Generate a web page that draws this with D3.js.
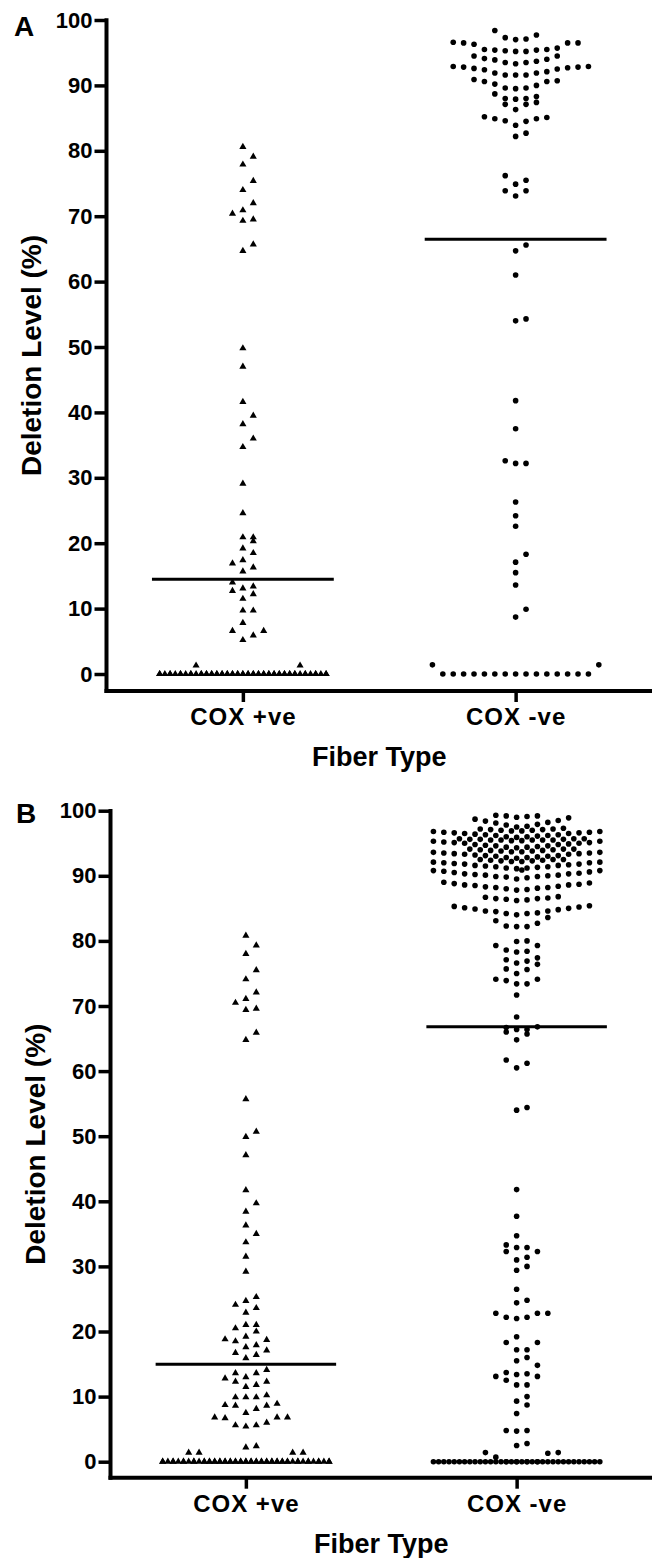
<!DOCTYPE html>
<html>
<head>
<meta charset="utf-8">
<script src="https://cdn.jsdelivr.net/npm/d3@7"></script>
<style>
  body { margin: 0; background: #fff; }
  svg text { font-family: "Liberation Sans", Arial, Helvetica, sans-serif; font-weight: bold; fill: #000; }
</style>
</head>
<body>
<div id="chart"></div>
<script>
const categories = ["COX +ve", "COX -ve"];
const yTicks = [0, 10, 20, 30, 40, 50, 60, 70, 80, 90, 100];
const panelLetters = ["A", "B"];
const xTitle = "Fiber Type";
const yTitle = "Deletion Level (%)";

// panel A, COX +ve fibres (triangles)
const aCoxPos = [
  80.6, 79.1, 77.9, 75.4, 74.0, 72.0, 70.9, 70.4, 69.5, 69.3, 65.7, 64.7,
  49.8, 47.0, 41.6, 39.5, 38.2, 36.0, 34.7, 29.1, 24.6,
  20.9, 20.9, 20.3, 19.2, 18.5, 17.4, 16.9, 16.3, 15.7, 14.0, 13.4, 13.1, 12.7, 12.2, 11.5,
  9.7, 9.7, 7.8, 6.6, 6.6, 5.9, 5.2, 1.3, 1.3,
  0, 0, 0, 0, 0, 0, 0, 0, 0, 0, 0, 0, 0, 0, 0, 0, 0, 0, 0, 0,
  0, 0, 0, 0, 0, 0, 0, 0, 0, 0, 0, 0, 0, 0, 0, 0, 0, 0, 0, 0,
  0, 0, 0, 0, 0, 0, 0, 0, 0, 0, 0, 0, 0, 0, 0, 0, 0, 0, 0
];

// panel A, COX -ve fibres (dots)
const aCoxNeg = [
  98.4, 97.7, 97.3, 97.1, 97.0,
  96.6, 96.5, 96.5, 96.5, 96.3, 95.7, 95.5, 95.5, 95.4, 95.4, 95.3, 95.2, 95.2,
  94.5, 94.5, 94.1, 94.0, 93.9, 93.7, 93.5, 93.5, 93.3,
  92.9, 92.9, 92.8, 92.8, 92.7, 92.6, 92.5, 92.4, 92.1, 91.9, 91.9, 91.6, 91.6, 91.6,
  90.9, 90.7, 90.6, 90.6, 90.2, 90.0, 89.6, 89.6, 89.5,
  88.7, 88.3, 88.0, 88.0, 87.9, 87.4, 87.1, 87.1, 86.3,
  85.2, 85.1, 84.9, 84.9, 84.6, 84.5, 83.9, 82.7, 82.2,
  76.2, 75.5, 74.9, 73.9, 73.9, 73.1,
  65.6, 64.7, 61.0, 54.3, 54.0, 41.8, 37.5, 32.6, 32.2, 32.2, 26.3, 24.2, 22.6,
  18.3, 17.1, 15.5, 13.6, 9.9, 8.7, 1.4, 1.4,
  0, 0, 0, 0, 0, 0, 0, 0, 0, 0, 0, 0, 0, 0, 0
];

// panel B, COX +ve fibres (triangles)
const bCoxPos = [
  80.8, 79.3, 78.0, 75.5, 74.1, 72.1, 71.1, 70.5, 69.6, 69.4, 65.9, 64.8,
  55.7, 50.7, 49.9, 47.1, 41.7, 39.7, 38.4, 36.3, 35.0, 33.7, 31.5, 29.2,
  25.3, 24.7, 24.1, 23.6, 22.9,
  21.0, 21.0, 20.5, 20.0, 19.2, 18.8, 18.7, 18.5, 17.9, 17.6, 17.1, 16.7, 16.4, 15.9,
  14.1, 13.6, 13.6, 13.0, 12.8, 12.3, 12.3, 11.8, 11.5,
  10.2, 9.9, 9.9, 9.9, 8.9, 8.7, 8.6, 8.6, 8.1, 7.5,
  6.8, 6.8, 6.8, 6.7, 6.0, 5.6, 5.6, 5.4,
  2.4, 2.2, 1.4, 1.4, 1.4, 1.4,
  0, 0, 0, 0, 0, 0, 0, 0, 0, 0, 0, 0, 0, 0, 0, 0, 0, 0, 0, 0,
  0, 0, 0, 0, 0, 0, 0, 0, 0, 0, 0, 0, 0, 0, 0, 0, 0, 0, 0, 0,
  0, 0, 0, 0, 0, 0, 0, 0, 0, 0, 0, 0, 0, 0, 0, 0, 0, 0
];

// panel B, COX -ve fibres (dots)
const bCoxNeg = [
  99.3, 99.2, 99.2, 99.1, 99.0,
  98.9, 98.7, 98.5, 98.4, 98.2, 98.1, 97.9, 97.8, 97.6, 97.5,
  97.3, 97.2, 97.2, 97.1, 97.1, 97.0, 97.0, 96.9, 96.9, 96.8, 96.8, 96.7, 96.7,
  96.6, 96.6, 96.5, 96.5, 96.4, 96.3, 96.3, 96.2, 96.2, 96.1, 96.0, 96.0, 95.9,
  95.7, 95.7, 95.7, 95.6, 95.6, 95.6, 95.5, 95.5, 95.5, 95.5, 95.5, 95.4, 95.4, 95.3, 95.3,
  95.2, 95.1, 95.1, 95.0, 95.0, 94.9, 94.8, 94.8, 94.7, 94.6, 94.6, 94.5, 94.4, 94.4, 94.3,
  94.1, 94.1, 94.1, 94.0, 94.0, 93.9, 93.9, 93.8, 93.8, 93.7, 93.7, 93.6, 93.6, 93.5,
  93.5, 93.4, 93.4, 93.3, 93.3, 93.2, 93.1, 93.1, 93.0, 93.0, 92.9, 92.8, 92.8, 92.7,
  92.5, 92.5, 92.5, 92.4, 92.4, 92.3, 92.3, 92.2, 92.2, 92.1, 92.1, 92.0, 92.0,
  91.9, 91.8, 91.8, 91.7, 91.6, 91.6, 91.5, 91.4, 91.4, 91.3, 91.2, 91.2, 91.1,
  90.9, 90.8, 90.8, 90.7, 90.6, 90.5, 90.4, 90.3, 90.3, 90.2, 90.1, 90.1, 90.0,
  89.9, 89.9, 89.8, 89.7, 89.5,
  89.0, 88.9, 88.8, 88.7, 88.6, 88.6, 88.5, 88.4, 88.3, 88.2, 88.2, 88.1, 88.0, 87.9, 87.8,
  86.8, 86.7, 86.6, 86.5, 86.5, 86.4, 86.3, 86.2,
  85.4, 85.3, 85.2, 85.1, 85.0, 84.9, 84.8, 84.6, 84.6, 84.5, 84.3, 84.2, 84.2, 84.0,
  83.6, 83.1, 82.7, 82.3, 82.2, 82.2,
  80.0, 79.9, 79.3, 79.3, 78.6, 78.4, 78.3, 77.4, 77.1, 76.9, 76.6, 76.4,
  75.7, 75.6, 75.0, 74.1, 74.1, 73.9, 73.4, 73.4, 71.7,
  68.3, 66.8, 66.7, 66.4, 66.4, 66.0, 65.7, 64.8, 61.7, 61.2, 60.5, 54.4, 54.0,
  41.8, 37.7, 34.7, 33.3, 32.9, 32.9, 32.3, 32.3, 31.4, 31.0, 30.0, 29.4, 26.5,
  24.8, 24.4, 22.8, 22.8, 22.8, 22.2, 22.2, 22.0, 19.2, 18.3, 18.3, 17.2, 17.2,
  16.0, 15.5, 14.8, 13.7, 13.5, 13.4, 13.1, 13.1, 12.5, 11.8, 11.8,
  10.0, 9.3, 8.7, 7.4, 4.8, 4.8, 4.7, 2.8, 2.5, 1.4, 1.4, 1.3, 0.7,
  0, 0, 0, 0, 0, 0, 0, 0, 0, 0, 0, 0, 0, 0, 0, 0, 0, 0, 0, 0,
  0, 0, 0, 0, 0, 0, 0, 0, 0, 0, 0, 0, 0, 0, 0, 0, 0
];

const width = 660,
  height = 1558,
  rowStep = 1.5, // values closer than this share one row of the scatter
  slot = 10.4, // horizontal gap between neighbours in a row
  slotsPerSide = 8;

const panels = [
  { letter: panelLetters[0], groups: [aCoxPos, aCoxNeg], left: 106.5, right: 652, top: 20, zero: 674, base: 691, lx: 14, ly: 36 },
  { letter: panelLetters[1], groups: [bCoxPos, bCoxNeg], left: 110.5, right: 652, top: 810.7, zero: 1461.7, base: 1477.7, lx: 16, ly: 823 }
];

const svg = d3
  .select("#chart")
  .append("svg")
  .attr("width", width)
  .attr("height", height);

// column scatter: group values into rows, then spread each row out from the centre.
// rows that are too wide wrap onto a second layer shifted by half a slot
const spreadColumn = (values, cx) => {
  const sorted = values.slice().sort((a, b) => a - b);
  const rows = [];
  let cur = null;
  sorted.forEach(v => {
    if (!cur || v >= cur.start + rowStep) {
      cur = { start: v, vals: [] };
      rows.push(cur);
    }
    cur.vals.push(v);
  });
  const out = [];
  rows.forEach(r => {
    let i = 0,
      layer = 0;
    while (i < r.vals.length) {
      const half = layer % 2 === 1;
      const cap = half ? slotsPerSide * 2 : slotsPerSide * 2 + 1;
      r.vals.slice(i, i + cap).forEach((v, j) => {
        let k;
        if (half) k = (j % 2 === 0 ? 1 : -1) * (Math.floor(j / 2) + 0.5);
        else k = j === 0 ? 0 : j % 2 ? (j + 1) / 2 : -j / 2;
        out.push({ v: v, x: cx + k * slot });
      });
      i += cap;
      layer++;
    }
  });
  return out;
};

const styleTicks = (sel, size) => {
  sel.select(".domain").remove();
  sel.selectAll(".tick line").attr("stroke", "#000").attr("stroke-width", 3.5);
  sel
    .selectAll(".tick text")
    .attr("font-size", size)
    .attr("fill", "#000");
};

panels.forEach(p => {
  const g = svg.append("g");
  const y = d3.scaleLinear().domain([0, 100]).range([p.zero, p.top]);
  const x = d3
    .scalePoint()
    .domain(categories)
    .range([p.left, p.right])
    .padding(0.5);

  // points
  p.groups.forEach((vals, i) => {
    const cx = x(categories[i]);
    const pts = spreadColumn(vals, cx);
    if (i === 0) {
      g.append("g")
        .selectAll("path")
        .data(pts)
        .enter()
        .append("path")
        .attr("d", d3.symbol(d3.symbolTriangle, 22))
        .attr("transform", d => `translate(${d.x},${y(d.v)})`)
        .attr("fill", "#000");
    } else {
      g.append("g")
        .selectAll("circle")
        .data(pts)
        .enter()
        .append("circle")
        .attr("cx", d => d.x)
        .attr("cy", d => y(d.v))
        .attr("r", 2.8)
        .attr("fill", "#000");
    }
    // mean line
    const m = d3.mean(vals);
    g.append("line")
      .attr("x1", cx - x.step() / 3)
      .attr("x2", cx + x.step() / 3)
      .attr("y1", y(m))
      .attr("y2", y(m))
      .attr("stroke", "#000")
      .attr("stroke-width", 3);
  });

  // y axis
  g.append("g")
    .attr("transform", `translate(${p.left},0)`)
    .call(d3.axisLeft(y).tickValues(yTicks).tickSize(12).tickPadding(2))
    .call(s => styleTicks(s, 22));

  // x axis
  g.append("g")
    .attr("transform", `translate(0,${p.base})`)
    .call(d3.axisBottom(x).tickSize(11).tickPadding(6))
    .call(s => styleTicks(s, 24))
    .call(s => s.selectAll(".tick text").attr("letter-spacing", 1));

  // axis lines
  g.append("line")
    .attr("x1", p.left)
    .attr("x2", p.left)
    .attr("y1", y(100) - 1.75)
    .attr("y2", p.base + 2)
    .attr("stroke", "#000")
    .attr("stroke-width", 4);
  g.append("line")
    .attr("x1", p.left - 2)
    .attr("x2", p.right)
    .attr("y1", p.base)
    .attr("y2", p.base)
    .attr("stroke", "#000")
    .attr("stroke-width", 4);

  // titles
  g.append("text")
    .attr("x", (p.left + p.right) / 2)
    .attr("y", p.base + 75)
    .attr("text-anchor", "middle")
    .attr("font-size", 27)
    .text(xTitle);
  g.append("text")
    .attr("transform", `translate(${p.left - 66},${(p.top + p.base) / 2}) rotate(-90)`)
    .attr("text-anchor", "middle")
    .attr("font-size", 28)
    .text(yTitle);
  g.append("text")
    .attr("x", p.lx)
    .attr("y", p.ly)
    .attr("font-size", 28)
    .text(p.letter);
});
</script>
</body>
</html>
